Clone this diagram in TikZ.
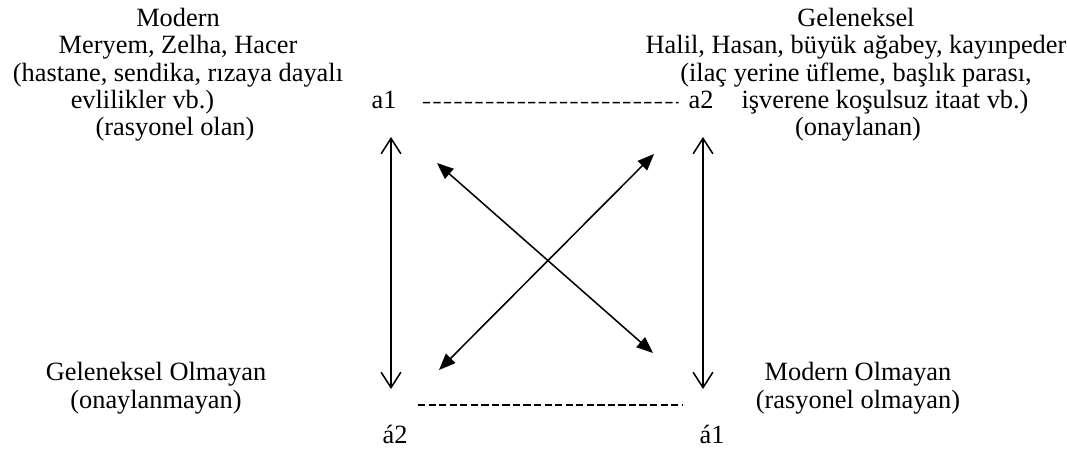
\documentclass[tikz,border=0pt]{standalone}
\usepackage{fontspec}
\setmainfont{Liberation Serif}
\usetikzlibrary{arrows.meta}

\begin{document}
\begin{tikzpicture}[
  lbl/.style={font=\fontsize{12}{12.3}\selectfont, align=center, inner sep=0pt, anchor=base},
  vline/.style={{Straight Barb[length=7pt,width=9pt]}-{Straight Barb[length=7pt,width=9pt]}, line width=0.7pt},
  xline/.style={{Triangle[length=7.5pt,width=6pt]}-{Triangle[length=7.5pt,width=6pt]}, line width=0.7pt},
  hyph/.style={line width=0.7pt, dash pattern=on 3.3pt off 1.5pt}
]
  \useasboundingbox (0,0) rectangle (17.072,7.168);

  %--- Upper labels ---
  \node[lbl] (modern) at (2.848,5.872) {Modern\\Meryem, Zelha, Hacer\\(hastane, sendika, rızaya dayalı};
  \node[lbl] (modernex) at (2.28,5.44) {evlilikler vb.)};
  \node[lbl] (modernrs) at (2.80,5.008) {(rasyonel olan)};

  \node[lbl] (gelenek) at (13.696,5.872) {Geleneksel\\Halil, Hasan, büyük ağabey, kayınpeder\\(ilaç yerine üfleme, başlık parası,};
  \node[lbl] (gelenekex) at (14.16,5.44) {işverene koşulsuz itaat vb.)};
  \node[lbl] (gelenekon) at (13.728,5.008) {(onaylanan)};

  \node[lbl] (aone) at (6.144,5.44) {a1};
  \node[lbl] (atwo) at (11.216,5.44) {a2};

  %--- Lower labels ---
  \node[lbl] (gelolm) at (2.496,0.640) {Geleneksel Olmayan\\(onaylanmayan)};
  \node[lbl] (modolm) at (13.728,0.640) {Modern Olmayan\\(rasyonel olmayan)};

  \node[lbl] (atwob) at (6.32,0.08) {á2};
  \node[lbl] (aoneb) at (11.392,0.08) {á1};

  %--- Square corners ---
  \coordinate (tl) at (6.256,4.976);
  \coordinate (bl) at (6.256,0.944);
  \coordinate (tr) at (11.248,4.976);
  \coordinate (br) at (11.248,0.944);
  \coordinate (dl) at (6.688,0.688);
  \coordinate (dr) at (10.928,0.688);
  \coordinate (xa) at (6.992,4.560);
  \coordinate (xb) at (10.448,1.520);
  \coordinate (xc) at (10.464,4.704);
  \coordinate (xd) at (7.024,1.248);

  \draw[hyph, shorten <=0.62cm, shorten >=0.36cm] ([yshift=-1.5pt]aone.center) -- ([yshift=-1.5pt]atwo.center);
  \draw[hyph] (dl) -- (dr);

  \draw[vline] (tl) -- (bl);
  \draw[vline] (tr) -- (br);
  \draw[xline] (xa) -- (xb);
  \draw[xline] (xc) -- (xd);
\end{tikzpicture}
\end{document}
